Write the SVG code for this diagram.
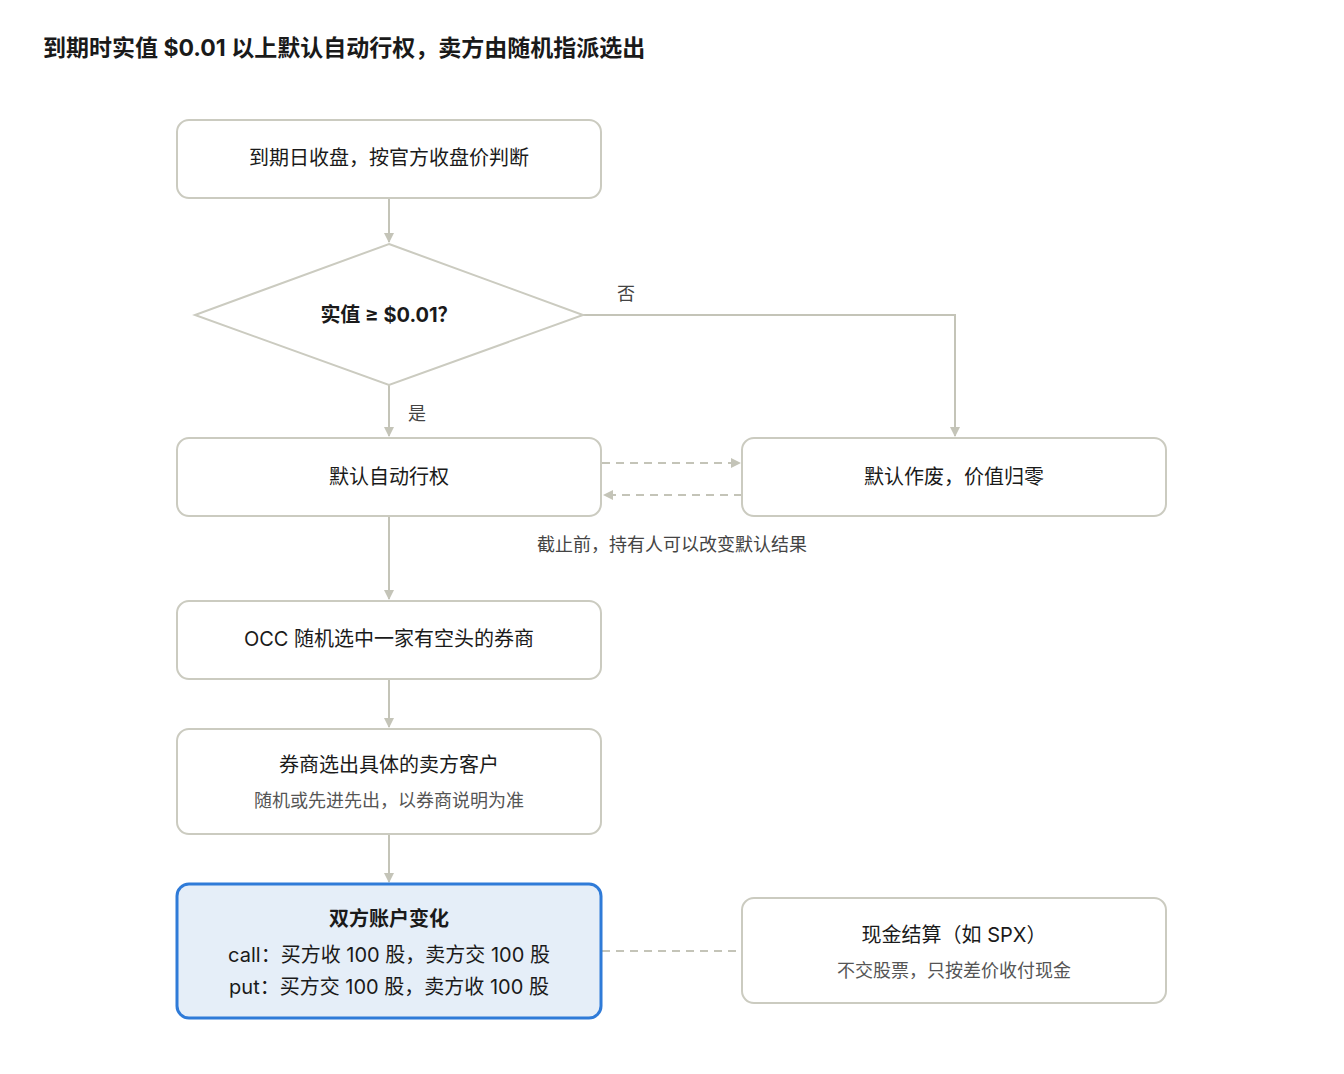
<svg xmlns="http://www.w3.org/2000/svg" width="1344" height="1074" viewBox="0 0 1344 1074">
<style>
text{font-family:Inter,"Noto Sans CJK SC",sans-serif;fill:#1a1a1a;text-anchor:middle}
.box{fill:#fff;stroke:#cbcbc0;stroke-width:2}
.t{font-size:20px}
.s{font-size:18px;fill:#555}
.l{font-size:18px;fill:#444}
.e{fill:none;stroke:#c4c4b8;stroke-width:2}
.d{stroke-dasharray:8 6}
</style>
<defs><marker id="a" markerWidth="10" markerHeight="10" refX="9" refY="5" orient="auto" markerUnits="userSpaceOnUse"><path d="M0,0L10,5L0,10z" fill="#c4c4b8"/></marker></defs>
<rect width="1344" height="1074" fill="#fff"/>
<text x="43" y="56" style="font-size:23px;font-weight:bold;text-anchor:start">到期时实值 $0.01 以上默认自动行权，卖方由随机指派选出</text>
<g id="edges">
<path class="e" d="M389,198V242" marker-end="url(#a)"/>
<path class="e" d="M389,385V436" marker-end="url(#a)"/>
<path class="e" d="M583,315H955V436" marker-end="url(#a)"/>
<path class="e d" d="M602,463H740" marker-end="url(#a)"/>
<path class="e d" d="M742,495H604" marker-end="url(#a)"/>
<path class="e" d="M389,516V599" marker-end="url(#a)"/>
<path class="e" d="M389,679V727" marker-end="url(#a)"/>
<path class="e" d="M389,834V882" marker-end="url(#a)"/>
<path class="e d" d="M602,951H742"/>
<text class="l" x="626" y="300">否</text>
<text class="l" x="417" y="420">是</text>
<text class="l" x="672" y="551">截止前，持有人可以改变默认结果</text>
</g>
<g id="n1"><rect class="box" x="177" y="120" width="424" height="78" rx="12"/><text class="t" x="389" y="165">到期日收盘，按官方收盘价判断</text></g>
<g id="n2"><polygon class="box" points="389,244 583,315 389,385 195,315"/><text class="t" x="389" y="322" style="font-weight:bold">实值 ≥ $0.01？</text></g>
<g id="n3"><rect class="box" x="177" y="438" width="424" height="78" rx="12"/><text class="t" x="389" y="484">默认自动行权</text></g>
<g id="n4"><rect class="box" x="742" y="438" width="424" height="78" rx="12"/><text class="t" x="954" y="484">默认作废，价值归零</text></g>
<g id="n5"><rect class="box" x="177" y="601" width="424" height="78" rx="12"/><text class="t" x="389" y="646">OCC 随机选中一家有空头的券商</text></g>
<g id="n6"><rect class="box" x="177" y="729" width="424" height="105" rx="12"/><text class="t" x="389" y="772">券商选出具体的卖方客户</text><text class="s" x="389" y="807">随机或先进先出，以券商说明为准</text></g>
<g id="n7"><rect x="177" y="884" width="424" height="134" rx="12" fill="#e5eef8" stroke="#2f7bd8" stroke-width="3"/><text class="t" x="389" y="926" style="font-weight:bold">双方账户变化</text><text class="t" x="389" y="962">call：买方收 100 股，卖方交 100 股</text><text class="t" x="389" y="994">put：买方交 100 股，卖方收 100 股</text></g>
<g id="n8"><rect class="box" x="742" y="898" width="424" height="105" rx="12"/><text class="t" x="954" y="942">现金结算（如 SPX）</text><text class="s" x="954" y="977">不交股票，只按差价收付现金</text></g>
</svg>
